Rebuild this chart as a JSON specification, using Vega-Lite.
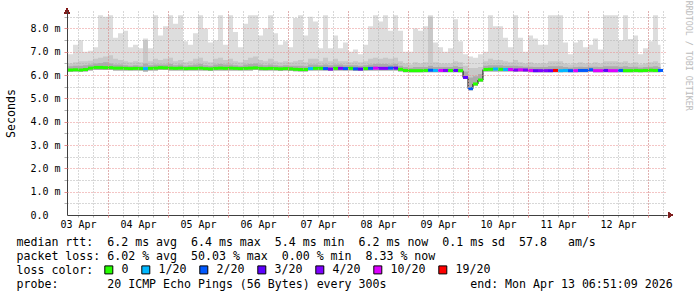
{
  "$schema": "https://vega.github.io/schema/vega-lite/v6.json",
  "width": 600,
  "height": 204,
  "autosize": {"type": "none"},
  "padding": {"left": 67, "top": 11, "right": 30, "bottom": 82},
  "background": "white",
  "config": {"view": {"stroke": null}, "font": "DejaVu Sans Mono"},
  "title": {"text": "RRDTOOL / TOBI OETIKER", "orient": "right", "anchor": "start", "font": "DejaVu Sans Mono", "fontSize": 8.3, "fontWeight": "normal", "color": "#bbbbbb", "offset": 3, "dx": -8, "dy": -9},
  "resolve": {"axis": {"x": "independent", "y": "independent"}},
  "data": {"values": [
    {"t":"2026-04-03T07:00","lo":6.14,"dk":6.38,"md":6.55,"mx":6.9,"med":6.22,"loss":"0"},
    {"t":"2026-04-03T09:00","lo":6.14,"dk":6.38,"md":6.5,"mx":6.9,"med":6.22,"loss":"0"},
    {"t":"2026-04-03T11:00","lo":6.15,"dk":6.4,"md":6.55,"mx":7.3,"med":6.23,"loss":"0"},
    {"t":"2026-04-03T13:00","lo":6.14,"dk":6.4,"md":6.6,"mx":7.5,"med":6.22,"loss":"0"},
    {"t":"2026-04-03T15:00","lo":6.15,"dk":6.42,"md":6.6,"mx":7.0,"med":6.24,"loss":"0"},
    {"t":"2026-04-03T17:00","lo":6.2,"dk":6.45,"md":6.62,"mx":7.05,"med":6.3,"loss":"0"},
    {"t":"2026-04-03T19:00","lo":6.22,"dk":6.5,"md":6.7,"mx":7.2,"med":6.33,"loss":"0"},
    {"t":"2026-04-03T21:00","lo":6.22,"dk":6.52,"md":6.75,"mx":8.57,"med":6.33,"loss":"0"},
    {"t":"2026-04-03T23:00","lo":6.22,"dk":6.55,"md":6.8,"mx":8.5,"med":6.32,"loss":"0"},
    {"t":"2026-04-04T01:00","lo":6.22,"dk":6.5,"md":6.85,"mx":8.57,"med":6.32,"loss":"0"},
    {"t":"2026-04-04T03:00","lo":6.2,"dk":6.45,"md":6.7,"mx":7.6,"med":6.3,"loss":"0"},
    {"t":"2026-04-04T05:00","lo":6.2,"dk":6.45,"md":6.65,"mx":7.8,"med":6.3,"loss":"0"},
    {"t":"2026-04-04T07:00","lo":6.2,"dk":6.42,"md":6.6,"mx":7.9,"med":6.29,"loss":"0"},
    {"t":"2026-04-04T09:00","lo":6.2,"dk":6.4,"md":6.55,"mx":7.2,"med":6.28,"loss":"0"},
    {"t":"2026-04-04T11:00","lo":6.2,"dk":6.42,"md":6.6,"mx":7.3,"med":6.29,"loss":"0"},
    {"t":"2026-04-04T13:00","lo":6.2,"dk":6.4,"md":6.55,"mx":7.15,"med":6.28,"loss":"0"},
    {"t":"2026-04-04T15:00","lo":6.15,"dk":6.5,"md":7.5,"mx":7.57,"med":6.28,"loss":"1/20"},
    {"t":"2026-04-04T17:00","lo":6.2,"dk":6.42,"md":6.6,"mx":7.15,"med":6.29,"loss":"0"},
    {"t":"2026-04-04T19:00","lo":6.2,"dk":6.45,"md":6.7,"mx":8.57,"med":6.3,"loss":"0"},
    {"t":"2026-04-04T21:00","lo":6.22,"dk":6.45,"md":6.65,"mx":7.7,"med":6.32,"loss":"0"},
    {"t":"2026-04-04T23:00","lo":6.22,"dk":6.45,"md":6.7,"mx":8.1,"med":6.31,"loss":"0"},
    {"t":"2026-04-05T01:00","lo":6.2,"dk":6.48,"md":6.75,"mx":8.57,"med":6.3,"loss":"0"},
    {"t":"2026-04-05T03:00","lo":6.2,"dk":6.42,"md":6.6,"mx":8.2,"med":6.29,"loss":"0"},
    {"t":"2026-04-05T05:00","lo":6.2,"dk":6.45,"md":6.65,"mx":8.57,"med":6.3,"loss":"0"},
    {"t":"2026-04-05T07:00","lo":6.2,"dk":6.4,"md":6.55,"mx":7.45,"med":6.28,"loss":"0"},
    {"t":"2026-04-05T09:00","lo":6.2,"dk":6.42,"md":6.6,"mx":7.3,"med":6.29,"loss":"0"},
    {"t":"2026-04-05T11:00","lo":6.2,"dk":6.45,"md":6.7,"mx":7.8,"med":6.29,"loss":"0"},
    {"t":"2026-04-05T13:00","lo":6.2,"dk":6.48,"md":6.75,"mx":8.57,"med":6.3,"loss":"0"},
    {"t":"2026-04-05T15:00","lo":6.2,"dk":6.42,"md":6.6,"mx":8.0,"med":6.28,"loss":"0"},
    {"t":"2026-04-05T17:00","lo":6.18,"dk":6.4,"md":6.55,"mx":7.4,"med":6.27,"loss":"0"},
    {"t":"2026-04-05T19:00","lo":6.2,"dk":6.45,"md":6.7,"mx":7.5,"med":6.29,"loss":"0"},
    {"t":"2026-04-05T21:00","lo":6.2,"dk":6.48,"md":6.75,"mx":8.57,"med":6.3,"loss":"0"},
    {"t":"2026-04-05T23:00","lo":6.2,"dk":6.45,"md":6.65,"mx":7.3,"med":6.29,"loss":"0"},
    {"t":"2026-04-06T01:00","lo":6.2,"dk":6.45,"md":6.7,"mx":8.57,"med":6.3,"loss":"0"},
    {"t":"2026-04-06T03:00","lo":6.2,"dk":6.42,"md":6.6,"mx":7.85,"med":6.29,"loss":"0"},
    {"t":"2026-04-06T05:00","lo":6.2,"dk":6.4,"md":6.55,"mx":7.2,"med":6.28,"loss":"0"},
    {"t":"2026-04-06T07:00","lo":6.2,"dk":6.45,"md":6.65,"mx":8.2,"med":6.29,"loss":"0"},
    {"t":"2026-04-06T09:00","lo":6.2,"dk":6.48,"md":6.75,"mx":8.57,"med":6.3,"loss":"0"},
    {"t":"2026-04-06T11:00","lo":6.22,"dk":6.5,"md":6.8,"mx":8.57,"med":6.31,"loss":"0"},
    {"t":"2026-04-06T13:00","lo":6.2,"dk":6.45,"md":6.65,"mx":7.7,"med":6.29,"loss":"0"},
    {"t":"2026-04-06T15:00","lo":6.2,"dk":6.42,"md":6.6,"mx":8.0,"med":6.28,"loss":"0"},
    {"t":"2026-04-06T17:00","lo":6.2,"dk":6.45,"md":6.7,"mx":8.57,"med":6.29,"loss":"0"},
    {"t":"2026-04-06T19:00","lo":6.2,"dk":6.42,"md":6.6,"mx":7.8,"med":6.28,"loss":"0"},
    {"t":"2026-04-06T21:00","lo":6.18,"dk":6.4,"md":6.55,"mx":7.3,"med":6.27,"loss":"0"},
    {"t":"2026-04-06T23:00","lo":6.2,"dk":6.42,"md":6.6,"mx":7.45,"med":6.28,"loss":"0"},
    {"t":"2026-04-07T01:00","lo":6.18,"dk":6.4,"md":6.55,"mx":7.2,"med":6.27,"loss":"0"},
    {"t":"2026-04-07T03:00","lo":6.17,"dk":6.4,"md":6.6,"mx":8.45,"med":6.25,"loss":"0"},
    {"t":"2026-04-07T05:00","lo":6.16,"dk":6.4,"md":6.65,"mx":8.57,"med":6.24,"loss":"0"},
    {"t":"2026-04-07T07:00","lo":6.16,"dk":6.38,"md":6.55,"mx":7.7,"med":6.24,"loss":"0"},
    {"t":"2026-04-07T09:00","lo":6.2,"dk":6.45,"md":6.7,"mx":8.5,"med":6.28,"loss":"1/20"},
    {"t":"2026-04-07T11:00","lo":6.2,"dk":6.45,"md":6.7,"mx":8.3,"med":6.29,"loss":"0"},
    {"t":"2026-04-07T13:00","lo":6.2,"dk":6.42,"md":6.6,"mx":7.15,"med":6.29,"loss":"0"},
    {"t":"2026-04-07T15:00","lo":6.2,"dk":6.45,"md":6.75,"mx":8.57,"med":6.28,"loss":"2/20"},
    {"t":"2026-04-07T17:00","lo":6.18,"dk":6.42,"md":6.6,"mx":7.15,"med":6.26,"loss":"4/20"},
    {"t":"2026-04-07T19:00","lo":6.2,"dk":6.45,"md":6.7,"mx":7.7,"med":6.29,"loss":"0"},
    {"t":"2026-04-07T21:00","lo":6.2,"dk":6.45,"md":6.6,"mx":7.15,"med":6.29,"loss":"4/20"},
    {"t":"2026-04-07T23:00","lo":6.2,"dk":6.42,"md":6.6,"mx":7.4,"med":6.28,"loss":"2/20"},
    {"t":"2026-04-08T01:00","lo":6.2,"dk":6.42,"md":6.55,"mx":7.0,"med":6.29,"loss":"0"},
    {"t":"2026-04-08T03:00","lo":6.18,"dk":6.42,"md":6.6,"mx":7.1,"med":6.27,"loss":"2/20"},
    {"t":"2026-04-08T05:00","lo":6.18,"dk":6.4,"md":6.55,"mx":6.9,"med":6.26,"loss":"3/20"},
    {"t":"2026-04-08T07:00","lo":6.2,"dk":6.42,"md":6.6,"mx":7.3,"med":6.28,"loss":"0"},
    {"t":"2026-04-08T09:00","lo":6.2,"dk":6.45,"md":6.7,"mx":8.1,"med":6.29,"loss":"2/20"},
    {"t":"2026-04-08T11:00","lo":6.2,"dk":6.48,"md":6.75,"mx":8.57,"med":6.3,"loss":"10/20"},
    {"t":"2026-04-08T13:00","lo":6.2,"dk":6.48,"md":6.7,"mx":8.3,"med":6.29,"loss":"4/20"},
    {"t":"2026-04-08T15:00","lo":6.2,"dk":6.48,"md":6.75,"mx":8.57,"med":6.29,"loss":"4/20"},
    {"t":"2026-04-08T17:00","lo":6.2,"dk":6.45,"md":6.7,"mx":7.9,"med":6.3,"loss":"2/20"},
    {"t":"2026-04-08T19:00","lo":6.2,"dk":6.48,"md":6.75,"mx":8.57,"med":6.3,"loss":"3/20"},
    {"t":"2026-04-08T21:00","lo":6.16,"dk":6.4,"md":6.6,"mx":7.9,"med":6.25,"loss":"0"},
    {"t":"2026-04-08T23:00","lo":6.12,"dk":6.35,"md":6.5,"mx":7.0,"med":6.2,"loss":"0"},
    {"t":"2026-04-09T01:00","lo":6.12,"dk":6.32,"md":6.45,"mx":7.0,"med":6.19,"loss":"0"},
    {"t":"2026-04-09T03:00","lo":6.12,"dk":6.35,"md":6.55,"mx":8.0,"med":6.19,"loss":"0"},
    {"t":"2026-04-09T05:00","lo":6.12,"dk":6.35,"md":6.5,"mx":7.9,"med":6.19,"loss":"0"},
    {"t":"2026-04-09T07:00","lo":6.12,"dk":6.35,"md":6.55,"mx":8.1,"med":6.2,"loss":"0"},
    {"t":"2026-04-09T09:00","lo":6.12,"dk":6.4,"md":8.5,"mx":8.57,"med":6.21,"loss":"2/20"},
    {"t":"2026-04-09T11:00","lo":6.12,"dk":6.35,"md":6.55,"mx":7.4,"med":6.2,"loss":"1/20"},
    {"t":"2026-04-09T13:00","lo":6.12,"dk":6.35,"md":6.5,"mx":7.2,"med":6.2,"loss":"10/20"},
    {"t":"2026-04-09T15:00","lo":6.12,"dk":6.35,"md":6.5,"mx":7.0,"med":6.2,"loss":"4/20"},
    {"t":"2026-04-09T17:00","lo":6.12,"dk":6.35,"md":6.5,"mx":7.15,"med":6.2,"loss":"0"},
    {"t":"2026-04-09T19:00","lo":6.12,"dk":6.38,"md":6.6,"mx":8.4,"med":6.2,"loss":"3/20"},
    {"t":"2026-04-09T21:00","lo":6.12,"dk":6.35,"md":6.55,"mx":7.45,"med":6.19,"loss":"0"},
    {"t":"2026-04-09T23:00","lo":5.85,"dk":6.15,"md":6.4,"mx":6.9,"med":5.9,"loss":"3/20"},
    {"t":"2026-04-10T01:00","lo":5.35,"dk":5.9,"md":6.3,"mx":6.8,"med":5.42,"loss":"2/20"},
    {"t":"2026-04-10T03:00","lo":5.55,"dk":5.95,"md":6.3,"mx":6.75,"med":5.62,"loss":"0"},
    {"t":"2026-04-10T05:00","lo":5.72,"dk":6.05,"md":6.35,"mx":6.9,"med":5.79,"loss":"0"},
    {"t":"2026-04-10T07:00","lo":6.15,"dk":6.4,"md":6.6,"mx":7.0,"med":6.24,"loss":"0"},
    {"t":"2026-04-10T09:00","lo":6.16,"dk":6.42,"md":6.7,"mx":8.57,"med":6.25,"loss":"0"},
    {"t":"2026-04-10T11:00","lo":6.16,"dk":6.42,"md":6.65,"mx":8.1,"med":6.26,"loss":"1/20"},
    {"t":"2026-04-10T13:00","lo":6.16,"dk":6.42,"md":6.65,"mx":8.1,"med":6.25,"loss":"0"},
    {"t":"2026-04-10T15:00","lo":6.15,"dk":6.4,"md":6.6,"mx":7.6,"med":6.24,"loss":"1/20"},
    {"t":"2026-04-10T17:00","lo":6.15,"dk":6.4,"md":6.55,"mx":7.2,"med":6.24,"loss":"10/20"},
    {"t":"2026-04-10T19:00","lo":6.14,"dk":6.4,"md":6.65,"mx":8.57,"med":6.22,"loss":"4/20"},
    {"t":"2026-04-10T21:00","lo":6.14,"dk":6.38,"md":6.55,"mx":7.6,"med":6.23,"loss":"10/20"},
    {"t":"2026-04-10T23:00","lo":6.14,"dk":6.36,"md":6.5,"mx":7.0,"med":6.22,"loss":"4/20"},
    {"t":"2026-04-11T01:00","lo":6.12,"dk":6.36,"md":6.55,"mx":7.7,"med":6.2,"loss":"10/20"},
    {"t":"2026-04-11T03:00","lo":6.12,"dk":6.35,"md":6.5,"mx":7.57,"med":6.19,"loss":"3/20"},
    {"t":"2026-04-11T05:00","lo":6.12,"dk":6.35,"md":6.5,"mx":7.3,"med":6.19,"loss":"4/20"},
    {"t":"2026-04-11T07:00","lo":6.12,"dk":6.35,"md":6.5,"mx":7.3,"med":6.19,"loss":"4/20"},
    {"t":"2026-04-11T09:00","lo":6.12,"dk":6.38,"md":6.6,"mx":8.57,"med":6.19,"loss":"3/20"},
    {"t":"2026-04-11T11:00","lo":6.12,"dk":6.38,"md":6.6,"mx":8.57,"med":6.2,"loss":"19/20"},
    {"t":"2026-04-11T13:00","lo":6.12,"dk":6.38,"md":6.6,"mx":8.57,"med":6.19,"loss":"1/20"},
    {"t":"2026-04-11T15:00","lo":6.12,"dk":6.35,"md":6.5,"mx":7.4,"med":6.2,"loss":"1/20"},
    {"t":"2026-04-11T17:00","lo":6.12,"dk":6.33,"md":6.45,"mx":6.9,"med":6.19,"loss":"2/20"},
    {"t":"2026-04-11T19:00","lo":6.12,"dk":6.35,"md":6.5,"mx":7.4,"med":6.19,"loss":"10/20"},
    {"t":"2026-04-11T21:00","lo":6.12,"dk":6.36,"md":6.55,"mx":7.5,"med":6.2,"loss":"2/20"},
    {"t":"2026-04-11T23:00","lo":6.12,"dk":6.35,"md":6.5,"mx":7.2,"med":6.2,"loss":"2/20"},
    {"t":"2026-04-12T01:00","lo":6.13,"dk":6.36,"md":6.5,"mx":7.3,"med":6.23,"loss":"2/20"},
    {"t":"2026-04-12T03:00","lo":6.12,"dk":6.36,"md":6.55,"mx":7.57,"med":6.19,"loss":"10/20"},
    {"t":"2026-04-12T05:00","lo":6.12,"dk":6.35,"md":6.5,"mx":7.1,"med":6.19,"loss":"10/20"},
    {"t":"2026-04-12T07:00","lo":6.12,"dk":6.38,"md":6.6,"mx":8.57,"med":6.2,"loss":"3/20"},
    {"t":"2026-04-12T09:00","lo":6.12,"dk":6.38,"md":6.6,"mx":8.57,"med":6.19,"loss":"10/20"},
    {"t":"2026-04-12T11:00","lo":6.12,"dk":6.38,"md":6.6,"mx":8.57,"med":6.19,"loss":"10/20"},
    {"t":"2026-04-12T13:00","lo":6.12,"dk":6.36,"md":6.55,"mx":7.5,"med":6.2,"loss":"2/20"},
    {"t":"2026-04-12T15:00","lo":6.12,"dk":6.38,"md":6.6,"mx":8.57,"med":6.19,"loss":"0"},
    {"t":"2026-04-12T17:00","lo":6.12,"dk":6.35,"md":6.5,"mx":7.55,"med":6.19,"loss":"0"},
    {"t":"2026-04-12T19:00","lo":6.12,"dk":6.36,"md":6.55,"mx":7.7,"med":6.2,"loss":"0"},
    {"t":"2026-04-12T21:00","lo":6.12,"dk":6.33,"md":6.45,"mx":6.9,"med":6.19,"loss":"0"},
    {"t":"2026-04-12T23:00","lo":6.12,"dk":6.35,"md":6.5,"mx":7.15,"med":6.2,"loss":"0"},
    {"t":"2026-04-13T01:00","lo":6.12,"dk":6.36,"md":6.55,"mx":7.45,"med":6.21,"loss":"0"},
    {"t":"2026-04-13T03:00","lo":6.12,"dk":6.38,"md":6.6,"mx":8.57,"med":6.2,"loss":"0"},
    {"t":"2026-04-13T05:00","lo":6.12,"dk":6.35,"md":6.5,"mx":7.3,"med":6.2,"loss":"2/20"}
  ]},
  "layer": [
    {
      "mark": {"type": "area", "interpolate": "step", "color": "#dddddd", "clip": true},
      "encoding": {
        "x": {
          "field": "t", "type": "temporal",
          "scale": {"domain": [{"year": 2026, "month": 4, "date": 3, "hours": 7, "minutes": 36}, {"year": 2026, "month": 4, "date": 13, "hours": 7, "minutes": 36}], "nice": false},
          "axis": {
            "orient": "bottom",
            "title": ["median rtt:\u00a0\u00a06.2 ms avg\u00a0\u00a06.4 ms max\u00a0\u00a05.4 ms min\u00a0\u00a06.2 ms now\u00a0\u00a00.1 ms sd\u00a0\u00a057.8\u00a0\u00a0\u00a0am/s", "packet loss: 6.02 % avg\u00a0\u00a050.03 % max\u00a0\u00a00.00 % min\u00a0\u00a08.33 % now", "loss color:", "probe:\u00a0\u00a0\u00a0\u00a0\u00a0\u00a0\u00a020 ICMP Echo Pings (56 Bytes) every 300s\u00a0\u00a0\u00a0\u00a0\u00a0\u00a0\u00a0\u00a0\u00a0\u00a0\u00a0\u00a0end: Mon Apr 13 06:51:09 2026"],
            "titleX": -51, "titleY": 30, "titleAlign": "left", "titleAnchor": "start", "titleBaseline": "alphabetic",
            "titleFont": "DejaVu Sans Mono", "titleFontSize": 11.6, "titleFontWeight": "normal", "titleColor": "black", "titleLineHeight": 14, "titleLimit": 2000,
            "tickCount": 40,
            "labels": false,
            "grid": true, "gridDash": [1, 2], "gridWidth": 1, "gridColor": "#b0b0b0",
            "ticks": true, "tickSize": 2, "tickColor": "#b0b0b0",
            "domain": true, "domainColor": "#404040", "domainWidth": 1, "zindex": 1
          }
        },
        "y": {
          "field": "mx", "type": "quantitative",
          "scale": {"domain": [0, 8.75], "nice": false, "zero": true},
          "axis": {
            "orient": "left",
            "title": "Seconds", "titleFont": "DejaVu Sans Mono", "titleFontSize": 11.6, "titleFontWeight": "normal", "titleColor": "black",
            "titleX": -56, "titleY": 102, "titleAngle": 270, "titleAlign": "center", "titleBaseline": "middle",
            "values": [0.5, 1.5, 2.5, 3.5, 4.5, 5.5, 6.5, 7.5, 8.5],
            "labels": false,
            "grid": true, "gridDash": [1, 2], "gridWidth": 1, "gridColor": "#b0b0b0",
            "ticks": true, "tickSize": 3, "tickColor": "#b0b0b0",
            "domain": true, "domainColor": "#404040", "domainWidth": 1, "zindex": 1
          }
        },
        "y2": {"field": "lo"}
      }
    },
    {
      "mark": {"type": "area", "interpolate": "step", "color": "#c8c8c8", "clip": true},
      "encoding": {
        "x": {
          "field": "t", "type": "temporal",
          "axis": {
            "orient": "bottom", "title": null,
            "values": [{"year": 2026, "month": 4, "date": 4}, {"year": 2026, "month": 4, "date": 5}, {"year": 2026, "month": 4, "date": 6}, {"year": 2026, "month": 4, "date": 7}, {"year": 2026, "month": 4, "date": 8}, {"year": 2026, "month": 4, "date": 9}, {"year": 2026, "month": 4, "date": 10}, {"year": 2026, "month": 4, "date": 11}, {"year": 2026, "month": 4, "date": 12}, {"year": 2026, "month": 4, "date": 13}],
            "labels": false,
            "grid": true, "gridDash": [1, 2], "gridWidth": 1, "gridColor": "#e88a8a",
            "ticks": true, "tickSize": 2, "tickColor": "#e88a8a",
            "domain": false, "zindex": 1
          }
        },
        "y": {
          "field": "md", "type": "quantitative",
          "axis": {
            "orient": "left", "title": null,
            "values": [1, 2, 3, 4, 5, 6, 7, 8],
            "labelExpr": "datum.label + ' m'",
            "format": ".1f",
            "labels": true, "labelAlign": "left", "labelBaseline": "middle", "labelPadding": 34,
            "labelFont": "DejaVu Sans Mono", "labelFontSize": 10, "labelColor": "black", "labelOverlap": false, "labelFlush": false,
            "grid": true, "gridDash": [1, 2], "gridWidth": 1, "gridColor": "#e88a8a",
            "ticks": true, "tickSize": 3, "tickColor": "#e88a8a",
            "domain": false, "zindex": 1
          }
        },
        "y2": {"field": "lo"}
      }
    },
    {
      "mark": {"type": "area", "interpolate": "step", "color": "#ababab", "clip": true},
      "encoding": {
        "x": {
          "field": "t", "type": "temporal",
          "axis": {
            "orient": "bottom", "title": null,
            "values": [{"year": 2026, "month": 4, "date": 3, "hours": 12}, {"year": 2026, "month": 4, "date": 4, "hours": 12}, {"year": 2026, "month": 4, "date": 5, "hours": 12}, {"year": 2026, "month": 4, "date": 6, "hours": 12}, {"year": 2026, "month": 4, "date": 7, "hours": 12}, {"year": 2026, "month": 4, "date": 8, "hours": 12}, {"year": 2026, "month": 4, "date": 9, "hours": 12}, {"year": 2026, "month": 4, "date": 10, "hours": 12}, {"year": 2026, "month": 4, "date": 11, "hours": 12}, {"year": 2026, "month": 4, "date": 12, "hours": 12}],
            "format": "%d %b",
            "labels": true, "labelFont": "DejaVu Sans Mono", "labelFontSize": 10, "labelColor": "black", "labelPadding": 2,
            "labelOverlap": false, "labelFlush": false, "labelBound": false,
            "grid": false,
            "ticks": true, "tickSize": 2, "tickOpacity": 0,
            "domain": false, "zindex": 1
          }
        },
        "y": {
          "field": "dk", "type": "quantitative",
          "axis": {
            "orient": "left", "title": null,
            "values": [0],
            "format": ".1f",
            "labels": true, "labelAlign": "left", "labelBaseline": "middle", "labelPadding": 34,
            "labelFont": "DejaVu Sans Mono", "labelFontSize": 10, "labelColor": "black", "labelOverlap": false, "labelFlush": false,
            "grid": false,
            "ticks": true, "tickSize": 3, "tickOpacity": 0,
            "domain": false, "zindex": 1
          }
        },
        "y2": {"field": "lo"}
      }
    },
    {
      "mark": {"type": "line", "interpolate": "step", "color": "black", "strokeWidth": 1, "clip": true},
      "encoding": {
        "x": {"field": "t", "type": "temporal", "axis": null},
        "y": {"field": "med", "type": "quantitative", "axis": null}
      }
    },
    {
      "mark": {"type": "tick", "orient": "horizontal", "size": 5, "thickness": 3, "opacity": 1, "clip": true},
      "encoding": {
        "x": {"field": "t", "type": "temporal", "axis": null},
        "y": {"field": "med", "type": "quantitative", "axis": null},
        "color": {
          "field": "loss", "type": "nominal",
          "scale": {"domain": ["0", "1/20", "2/20", "3/20", "4/20", "10/20", "19/20"], "range": ["#26ff00", "#00b8ff", "#0059ff", "#5e00ff", "#7e00ff", "#dd00ff", "#ff0000"]},
          "legend": {
            "orient": "none", "legendX": 36, "legendY": 253, "direction": "horizontal", "title": null,
            "symbolType": "square", "symbolSize": 64, "symbolStrokeColor": "black", "symbolStrokeWidth": 1, "symbolOpacity": 1,
            "labelFont": "DejaVu Sans Mono", "labelFontSize": 11.6, "labelColor": "black", "labelOffset": 7, "labelLimit": 0,
            "columnPadding": 10, "padding": 0
          }
        }
      }
    },
    {
      "mark": {"type": "point", "shape": "triangle-up", "filled": true, "size": 25, "color": "#7f1f1f", "opacity": 1},
      "encoding": {
        "x": {"datum": {"year": 2026, "month": 4, "date": 3, "hours": 7, "minutes": 36}, "type": "temporal", "axis": null},
        "y": {"datum": 8.75, "type": "quantitative", "axis": null}
      }
    },
    {
      "mark": {"type": "point", "shape": "triangle-right", "filled": true, "size": 25, "color": "#7f1f1f", "opacity": 1},
      "encoding": {
        "x": {"datum": {"year": 2026, "month": 4, "date": 13, "hours": 9, "minutes": 0}, "type": "temporal", "axis": null},
        "y": {"datum": 0, "type": "quantitative", "axis": null}
      }
    }
  ]
}
